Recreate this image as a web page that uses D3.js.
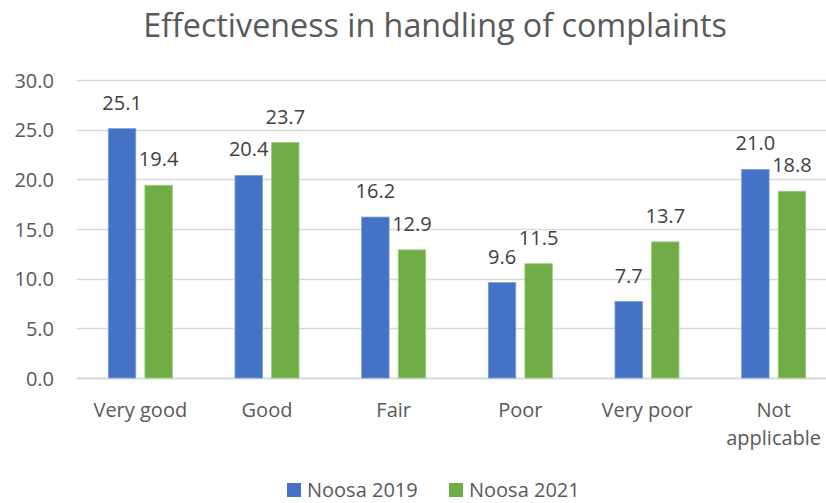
<!DOCTYPE html>
<html>
<head>
<meta charset="utf-8">
<script src="https://cdn.jsdelivr.net/npm/d3@7"></script>
<style>
  html, body { margin: 0; padding: 0; background: #fff; }
  svg { display: block; font-family: "Open Sans", sans-serif; }
</style>
</head>
<body>
<svg id="chart" width="826" height="503"></svg>
<script>
const title = "Effectiveness in handling of complaints";
const categories = ["Very good", "Good", "Fair", "Poor", "Very poor", "Not applicable"];
const seriesNames = ["Noosa 2019", "Noosa 2021"];
const noosa2019 = [25.1, 20.4, 16.2, 9.6, 7.7, 21.0];
const noosa2021 = [19.4, 23.7, 12.9, 11.5, 13.7, 18.8];
const yTicks = [0, 5, 10, 15, 20, 25, 30];
const colors = ["#4472C4", "#70AD47"];

const series = [noosa2019, noosa2021];
const svg = d3.select("#chart");
const textColor = "#595959";

const plot = { left: 77, right: 837, top: 80, bottom: 378 };

const y = d3.scaleLinear().domain([0, 30]).range([plot.bottom, plot.top]);
const x = d3.scaleBand().domain(categories).range([plot.left, plot.right]).paddingInner(0).paddingOuter(0);
const barW = 28, barGap = 8;
const groupW = barW * 2 + barGap;
const xs = d3.scaleBand().domain(seriesNames).range([0, groupW]).paddingInner(barGap / (groupW/2)).paddingOuter(0);

// gridlines
const grid = svg.append("g");
grid.selectAll("line").data(yTicks).join("line")
  .attr("x1", plot.left).attr("x2", plot.right)
  .attr("y1", d => Math.round(y(d)) + 0.5).attr("y2", d => Math.round(y(d)) + 0.5)
  .attr("stroke", "#D9D9D9")
  .attr("stroke-width", d => d === 0 ? 2 : 1.3);

// y tick labels
const yAxis = d3.axisLeft(y).tickValues(yTicks).tickFormat(d3.format(".1f")).tickSize(0).tickPadding(0);
const yg = svg.append("g").attr("transform", `translate(54,0)`).call(yAxis);
yg.select(".domain").remove();
yg.selectAll("text").attr("fill", textColor).style("font-size", "20px")
  .style("font-family", "'Open Sans', sans-serif").attr("dy", "0.35em");

// bars
const groups = svg.append("g").selectAll("g").data(categories).join("g")
  .attr("transform", d => `translate(${x(d) + (x.bandwidth() - groupW) / 2},0)`);

groups.each(function(cat, i) {
  const g = d3.select(this);
  seriesNames.forEach((s, si) => {
    const v = series[si][i];
    g.append("rect")
      .attr("x", xs(s))
      .attr("width", xs.bandwidth())
      .attr("y", y(v))
      .attr("height", y(0) - y(v))
      .attr("fill", colors[si])
      .attr("stroke", si === 0 ? "#7A9BD6" : "#9ACB7E")
      .attr("stroke-width", 0.8);
    g.append("text")
      .attr("x", xs(s) + xs.bandwidth() / 2)
      .attr("y", y(v) - 19)
      .attr("text-anchor", "middle")
      .attr("fill", "#404040")
      .style("font-size", "20px")
      .text(d3.format(".1f")(v));
  });
});

// category labels
const catG = svg.append("g");
categories.forEach(c => {
  const words = c === "Not applicable" ? ["Not", "applicable"] : [c];
  words.forEach((w, wi) => {
    catG.append("text")
      .attr("x", x(c) + x.bandwidth() / 2)
      .attr("y", 417 + wi * 28)
      .attr("text-anchor", "middle")
      .attr("fill", textColor)
      .style("font-size", "20px")
      .text(w);
  });
});

// title
const t = svg.append("text")
  .attr("x", 435).attr("y", 37)
  .attr("text-anchor", "middle")
  .attr("fill", textColor)
  .style("font-size", "32px")
  .text(title);
const tw = t.node().getComputedTextLength();
t.style("font-size", (32 * 584 / tw) + "px");

// legend
const legend = svg.append("g");
const legX = [287, 449];
seriesNames.forEach((s, i) => {
  legend.append("rect")
    .attr("x", legX[i]).attr("y", 483)
    .attr("width", 14).attr("height", 14)
    .attr("fill", colors[i]);
  legend.append("text")
    .attr("x", legX[i] + 20).attr("y", 497)
    .attr("fill", textColor)
    .style("font-size", "20px")
    .text(s);
});
</script>
</body>
</html>
